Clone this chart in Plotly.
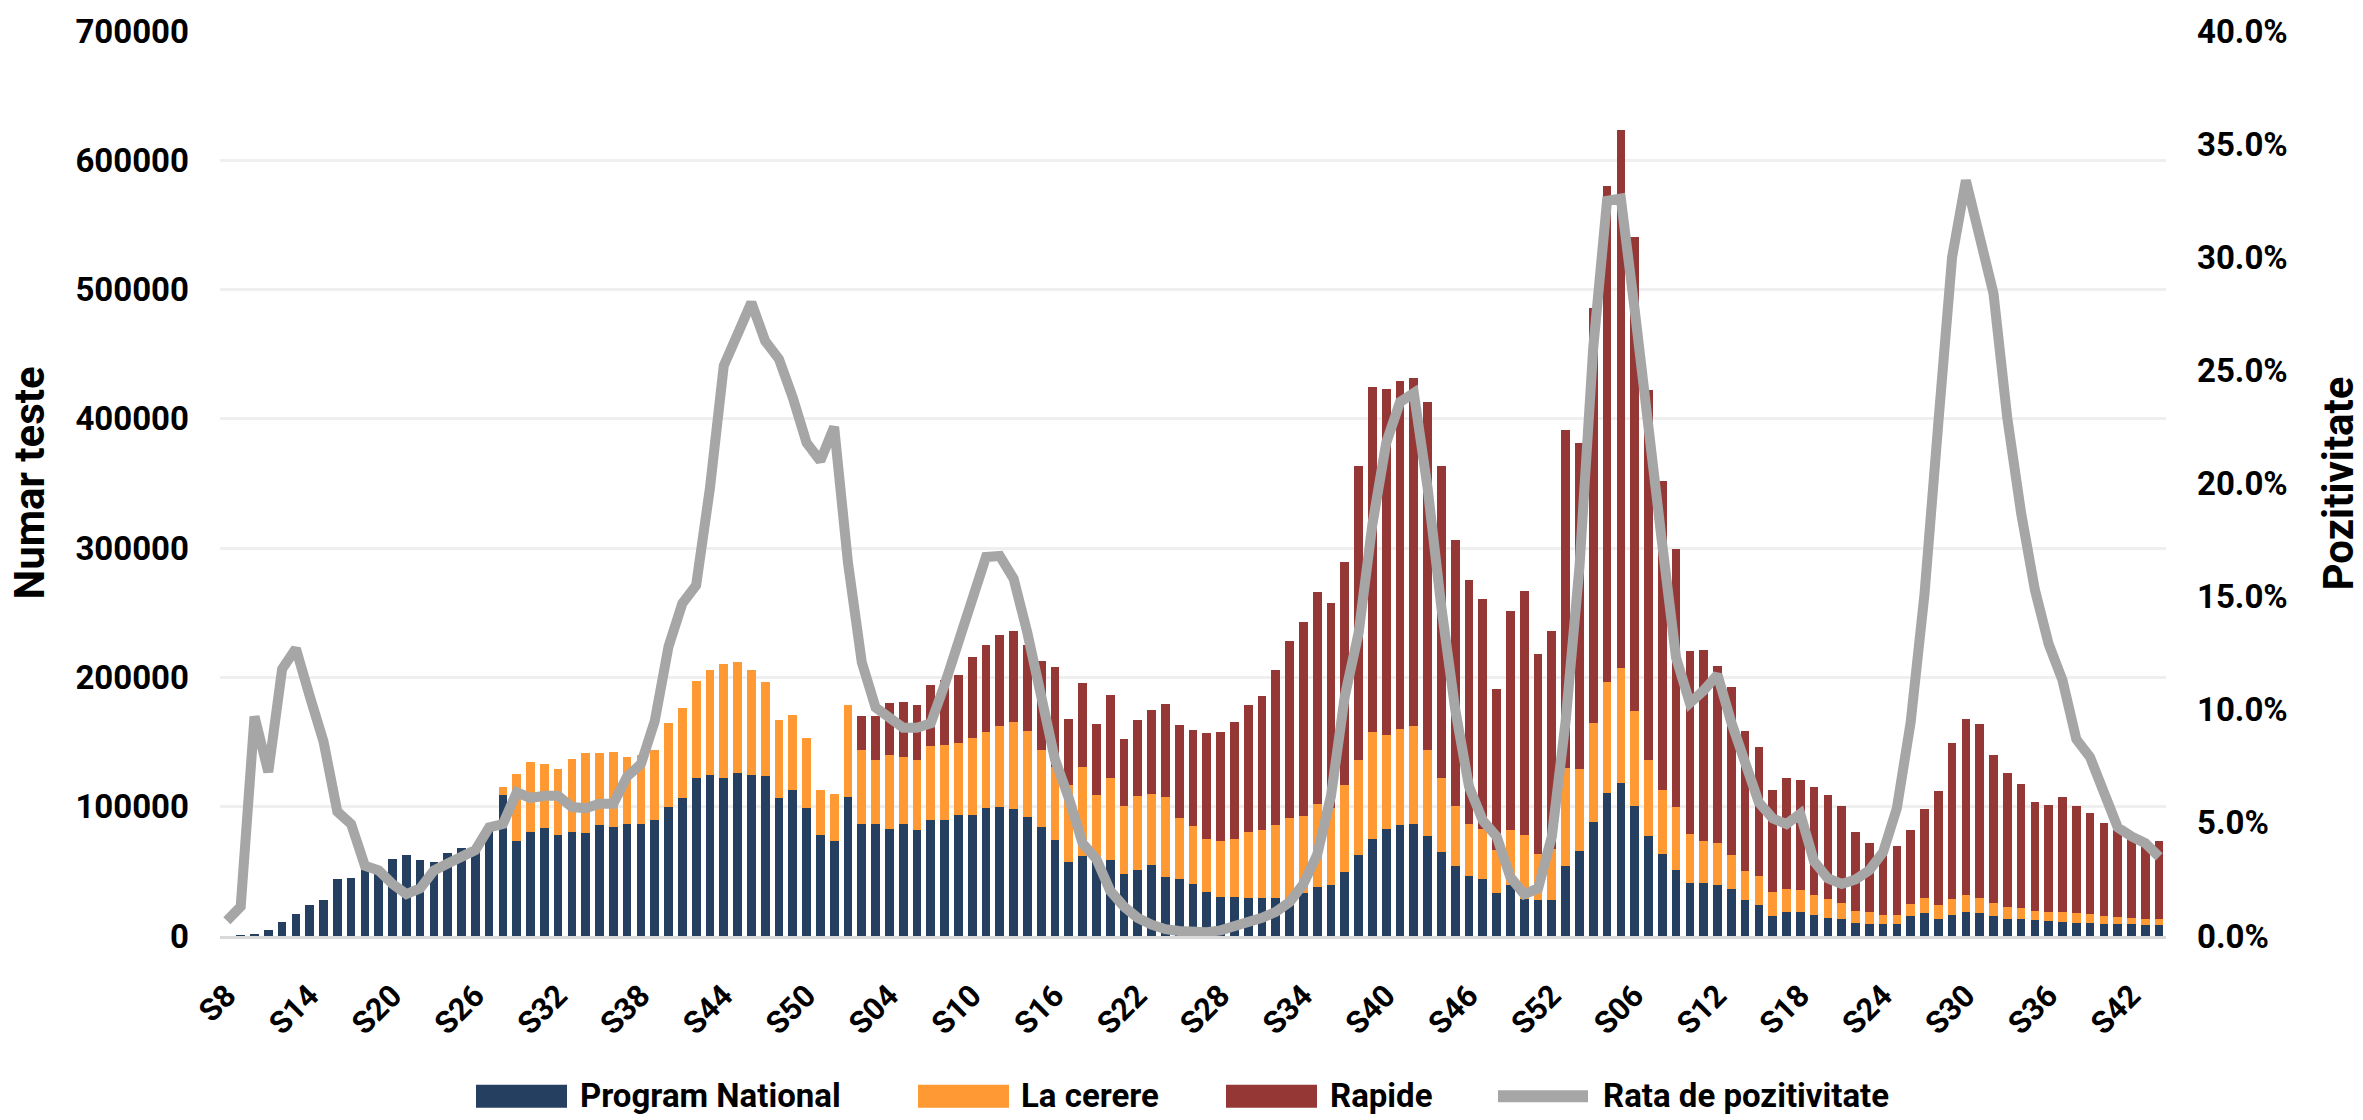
import plotly.graph_objects as go

# Week labels (2020: S8..S52, 2021: S01..S52, 2022: S01..S44)
weeks = ([f"S{w}" for w in range(8, 53)]
         + [f"S{w:02d}" for w in range(1, 53)]
         + [f"S{w:02d}" for w in range(1, 45)])

program_national = [
    0, 500, 1500, 4400, 10800, 16700, 23600, 28000, 43800, 44800,
    52000, 51000, 59500, 63000, 59000, 57000, 64000, 68000, 69000, 81000,
    108700, 73800, 80700, 83600, 78200, 80700, 79700, 85600, 84600, 87000,
    87000, 90000, 99900, 106700, 122000, 124400, 122500, 125900, 124400, 124000,
    106700, 112600, 98900, 78200, 73800, 107700, 86600, 86600, 83100, 86600,
    81700, 90000, 89500, 93500, 93500, 98900, 99900, 98400, 92000, 84100,
    74300, 57600, 62000, 60000, 58500, 47700, 50700, 54600, 45700, 43800,
    40300, 34400, 30000, 30000, 29500, 29500, 29500, 27500, 33000, 37900,
    39400, 49700, 62500, 74800, 82600, 85600, 86600, 77700, 64900, 54100,
    46700, 43800, 33000, 39800, 28500, 28000, 28000, 54100, 65400, 88500,
    110700, 118500, 100300, 77700, 63500, 51200, 41300, 40800, 39800, 36400,
    27500, 23600, 15200, 18200, 18200, 16200, 13800, 12800, 9800, 9300,
    8900, 9300, 15200, 17700, 12800, 16200, 18700, 17700, 15200, 13300,
    13300, 12300, 11300, 10800, 10300, 10300, 9300, 8900, 8900, 8400,
    8400]

la_cerere = [
    0, 0, 0, 0, 0, 0, 0, 0, 0, 0,
    0, 0, 0, 0, 0, 0, 0, 0, 0, 0,
    6300, 51600, 53600, 49700, 51200, 56500, 62000, 56100, 57600, 51200,
    52700, 53600, 64900, 69900, 75200, 81200, 88000, 86100, 81200, 72300,
    60500, 58600, 54100, 34900, 35900, 71300, 57000, 49200, 57100, 51600,
    54600, 57100, 58100, 55500, 59500, 59000, 62400, 66900, 66900, 60000,
    56500, 59500, 68800, 48700, 64000, 53100, 57500, 55100, 62000, 47700,
    44800, 40900, 43300, 44800, 50700, 52600, 56100, 63500, 60000, 64400,
    59500, 66900, 73300, 83100, 72800, 74300, 75700, 65900, 57100, 46700,
    39900, 39300, 33400, 42300, 49700, 35500, 39000, 76200, 64000, 76300,
    85600, 88600, 73800, 58600, 49600, 48200, 37400, 33000, 32000, 26600,
    22700, 22600, 18700, 18200, 17700, 15300, 14700, 12800, 9900, 8900,
    7300, 6900, 9900, 11800, 11300, 12300, 12800, 11800, 10400, 8800,
    8300, 7400, 7400, 7900, 7400, 6400, 6400, 5900, 5400, 4900,
    4400]

rapide = [
    0, 0, 0, 0, 0, 0, 0, 0, 0, 0,
    0, 0, 0, 0, 0, 0, 0, 0, 0, 0,
    0, 0, 0, 0, 0, 0, 0, 0, 0, 0,
    0, 0, 0, 0, 0, 0, 0, 0, 0, 0,
    0, 0, 0, 0, 0, 0, 26600, 34400, 39800, 42800,
    42700, 46700, 50400, 53200, 62900, 67400, 70400, 70300, 66100, 68900,
    77200, 51100, 65000, 55100, 63900, 51200, 59000, 65400, 71800, 71800,
    74300, 81600, 84600, 90500, 98800, 103300, 120500, 137200, 150000, 163800,
    158400, 172600, 227700, 267100, 267600, 269000, 269600, 269600, 241500, 205600,
    188400, 177600, 124900, 169300, 188400, 154900, 168600, 260700, 252300, 320700,
    384100, 416600, 366500, 286200, 239100, 200200, 141700, 147100, 136800, 129300,
    108700, 99900, 78700, 86100, 85100, 84100, 80200, 74700, 61000, 54100,
    47800, 53600, 56600, 68900, 88100, 120500, 136700, 134800, 114100, 103800,
    96000, 83600, 82600, 88500, 82600, 78700, 71900, 66900, 61400, 58500,
    61000]

pozitivitate = [
    0.67, 1.3, 9.7, 7.25, 11.8, 12.7, 10.6, 8.6, 5.5, 4.95,
    3.1, 2.9, 2.3, 1.85, 2.1, 2.9, 3.2, 3.5, 3.8, 4.8,
    4.95, 6.35, 6.1, 6.2, 6.2, 5.7, 5.65, 5.85, 5.85, 7.05,
    7.6, 9.5, 12.8, 14.7, 15.5, 19.8, 25.2, 26.6, 28.0, 26.3,
    25.5, 23.8, 21.8, 21.0, 22.5, 16.5, 12.1, 10.1, 9.6, 9.2,
    9.2, 9.4, 11.1, 13.1, 14.9, 16.75, 16.8, 15.8, 13.4, 10.7,
    7.8, 6.1, 4.1, 3.4, 2.0, 1.3, 0.8, 0.5, 0.3, 0.22,
    0.17, 0.17, 0.25, 0.4, 0.6, 0.8, 1.07, 1.5, 2.3, 3.6,
    6.2, 10.6, 13.4, 18.2, 21.8, 23.6, 24.0, 19.8, 14.5, 10.0,
    6.6, 5.1, 4.4, 2.6, 1.85, 2.1, 4.4, 9.5, 16.3, 26.0,
    32.5, 32.6, 27.7, 22.9, 17.3, 12.3, 10.3, 10.85, 11.55, 9.45,
    7.5, 5.9, 5.2, 4.95, 5.4, 3.3, 2.55, 2.3, 2.5, 2.9,
    3.7, 5.65, 9.45, 15.1, 22.65, 30.0, 33.4, 31.0, 28.4, 22.9,
    18.7, 15.3, 12.9, 11.3, 8.7, 7.9, 6.2, 4.8, 4.4, 4.1,
    3.5]

series_names = ["Program National", "La cerere", "Rapide", "Rata de pozitivitate"]
colors = ["#243F60", "#FF9933", "#953735", "#A6A6A6"]

x = list(range(len(weeks)))
tick_idx = x[::6]
tick_txt = [weeks[i] for i in tick_idx]

FONT = "Roboto"
fig = go.Figure()
for vals, name, col in zip([program_national, la_cerere, rapide], series_names[:3], colors[:3]):
    fig.add_trace(go.Bar(x=x, y=vals, name=name, marker=dict(color=col, line=dict(width=0)),
                         showlegend=False))
fig.add_trace(go.Scatter(x=x, y=pozitivitate, name=series_names[3], yaxis="y2", mode="lines",
                         line=dict(color=colors[3], width=10), showlegend=False))

W, H = 2363, 1120
L, R, T, B = 220, 197, 27, 184
pw, ph = W - L - R, H - T - B


def px(v):
    return (v - L) / pw


def py(v):
    return (H - B - v) / ph


fig.update_layout(
    width=W, height=H,
    margin=dict(l=L, r=R, t=T, b=B),
    paper_bgcolor="white", plot_bgcolor="white",
    barmode="stack", bargap=0.37,
    font=dict(family=FONT, color="black"),
    xaxis=dict(range=[-0.5, len(weeks) - 0.5], tickmode="array", tickvals=tick_idx, ticktext=tick_txt,
               tickangle=-45, tickfont=dict(family=FONT, size=31, weight="bold", color="black"),
               showgrid=False, zeroline=False, showline=True, linecolor="#D9D9D9", linewidth=3,
               ticks="", ticklabelstandoff=26),
    yaxis=dict(range=[0, 700000], dtick=100000, tickformat="d",
               tickfont=dict(family=FONT, size=33, weight="bold", color="black"),
               showgrid=True, gridcolor="#EFEFEF", gridwidth=3, zeroline=False, showline=False,
               ticks="", ticklabelstandoff=30),
    yaxis2=dict(range=[0, 40], dtick=5, tickformat=".1f", ticksuffix="%", overlaying="y", side="right",
                tickfont=dict(family=FONT, size=33, weight="bold", color="black"),
                showgrid=False, zeroline=False, showline=False, ticks="", ticklabelstandoff=30),
)

# axis titles
fig.add_annotation(text="Numar teste", x=px(29), y=0.5, xref="paper", yref="paper", textangle=-90,
                   showarrow=False, xanchor="center", yanchor="middle",
                   font=dict(family=FONT, size=42, weight="bold", color="black"))
fig.add_annotation(text="Pozitivitate", x=px(2338), y=0.5, xref="paper", yref="paper", textangle=-90,
                   showarrow=False, xanchor="center", yanchor="middle",
                   font=dict(family=FONT, size=42, weight="bold", color="black"))

# custom legend
legend_items = [(476, 578), (918, 1019), (1226, 1328), (1494, 1601)]
sym_w = 91
ly = 1097
for (sx, tx), name, col in zip(legend_items, series_names, colors):
    if name == series_names[3]:
        fig.add_shape(type="line", xref="paper", yref="paper", x0=px(sx + 4), x1=px(sx + 94),
                      y0=py(ly), y1=py(ly), line=dict(color=col, width=12))
    else:
        fig.add_shape(type="rect", xref="paper", yref="paper", x0=px(sx), x1=px(sx + sym_w),
                      y0=py(ly - 11.5), y1=py(ly + 11.5), fillcolor=col, line=dict(width=0))
    fig.add_annotation(text=name, x=px(tx), y=py(ly - 1), xref="paper", yref="paper", showarrow=False,
                       xanchor="left", yanchor="middle",
                       font=dict(family=FONT, size=33, weight="bold", color="black"))

fig.write_html("out.html",
               config={"displayModeBar": False},
               post_script="document.body.style.margin='0';"
                           "document.documentElement.style.overflow='hidden';"
                           "document.body.style.overflow='hidden';")
